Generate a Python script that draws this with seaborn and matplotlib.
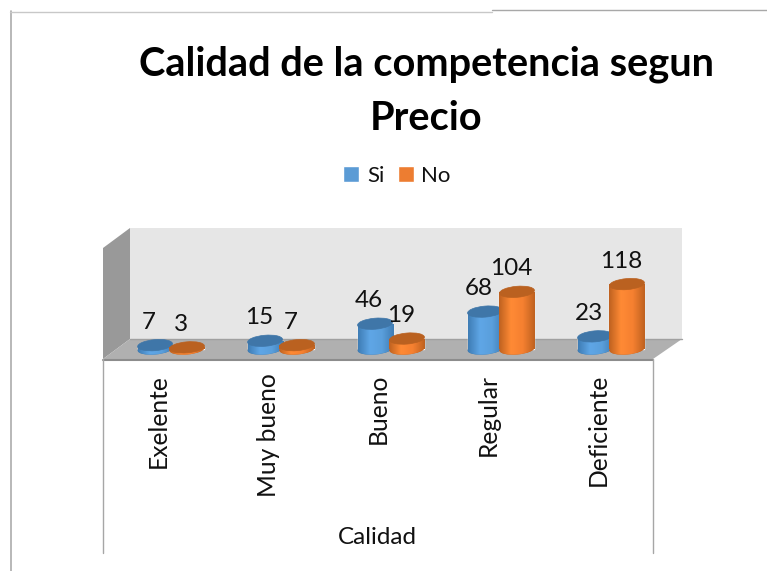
"""Calidad de la competencia segun Precio: columnas tipo cilindro 3D con seaborn."""
import numpy as np
import pandas as pd
import matplotlib
matplotlib.use('Agg')
import matplotlib.pyplot as plt
import seaborn as sns
from matplotlib.lines import Line2D
from matplotlib.patches import Ellipse, Polygon
from matplotlib.transforms import Affine2D, IdentityTransform, ScaledTranslation
from matplotlib.colors import LinearSegmentedColormap

categorias = ['Exelente', 'Muy bueno', 'Bueno', 'Regular', 'Deficiente']
valores_si = [7, 15, 46, 68, 23]
valores_no = [3, 7, 19, 104, 118]
series = ['Si', 'No']
titulo = 'Calidad de la competencia segun\nPrecio'
eje_x = 'Calidad'

ANCHO, ALTO = 767, 571
COLOR_SI = '#5B9BD5'
COLOR_NO = '#ED7D31'
GRADIENTES = {
    COLOR_SI: ['#3F7DB5', '#5FA6E6', '#5A9FDC', '#3F7DB5'],
    COLOR_NO: ['#BF6220', '#FF8A35', '#F58030', '#BF6220'],
}
TAPAS = {COLOR_SI: '#3F76A8', COLOR_NO: '#BA6120'}


def dibujar_decoracion(fig, px):
    """Paredes, piso y marcos del grafico, en pixeles de la imagen."""
    paredes = [
        ([(130, 228), (682, 228), (682, 339), (130, 339)], '#E6E6E6'),
        ([(103, 248), (130, 228), (130, 339), (103, 359)], '#999999'),
        ([(130, 339), (682, 339), (653, 359), (103, 359)], '#B0B0B0'),
    ]
    for puntos, color in paredes:
        fig.add_artist(Polygon(puntos, closed=True, facecolor=color, edgecolor='none',
                               transform=px, zorder=-2))
    lineas = [
        ([103, 653], [359.5, 359.5], '#8C8C8C', 1.5),
        ([130, 682], [339, 339], '#A0A0A0', 1.0),
        ([103, 103], [359, 553], '#A6A6A6', 1.0),
        ([653, 653], [359, 553], '#A6A6A6', 1.0),
        ([10.5, 10.5], [11, 571], '#ABABAB', 1.2),
        ([10, 492], [11.5, 11.5], '#C8C8C8', 1.0),
        ([492, 767], [9.5, 9.5], '#A8A8A8', 1.0),
    ]
    for xs, ys, color, grosor in lineas:
        fig.add_artist(Line2D(xs, ys, color=color, linewidth=grosor, transform=px, zorder=-1))


def dibujar_cilindros(ax):
    """Convierte cada barra de seaborn en un cilindro, con gradiente y tapa."""
    xlim, ylim = ax.get_xlim(), ax.get_ylim()
    identidad = IdentityTransform()
    orden = 5
    for i in range(len(categorias)):
        for contenedor, color in zip(ax.containers, [COLOR_SI, COLOR_NO]):
            barra = contenedor.patches[i]
            x0, ancho, alto = barra.get_x(), barra.get_width(), barra.get_height()
            mapa = LinearSegmentedColormap.from_list('lado', GRADIENTES[color])
            gradiente = np.linspace(0, 1, 64).reshape(1, -1)
            base = ax.transData.transform((x0 + ancho / 2, 0))
            tope = ax.transData.transform((x0 + ancho / 2, alto))
            ancho_px = ax.transData.transform((x0 + ancho, 0))[0] - ax.transData.transform((x0, 0))[0]
            fondo = Ellipse(base, ancho_px, 11, angle=5, transform=identidad,
                            facecolor=TAPAS[color], edgecolor='none', zorder=orden)
            ax.add_patch(fondo)
            imagen = ax.imshow(gradiente, cmap=mapa, aspect='auto', interpolation='bilinear',
                               extent=(x0, x0 + ancho, ylim[0], alto), zorder=orden + 0.1)
            imagen.set_clip_path(fondo)
            imagen2 = ax.imshow(gradiente, cmap=mapa, aspect='auto', interpolation='bilinear',
                                extent=(x0, x0 + ancho, 0, alto), zorder=orden + 0.2)
            imagen2.set_clip_path(barra)
            ax.add_patch(Ellipse(tope, ancho_px, 11, angle=5, transform=identidad,
                                 facecolor=TAPAS[color], edgecolor=TAPAS[color], linewidth=0.5,
                                 zorder=orden + 0.3))
            ax.annotate(f'{int(alto)}', (x0 + ancho / 2, alto), xytext=(-6, 23),
                        textcoords='offset pixels', ha='center', va='center',
                        fontsize=17.5, color='#111111', zorder=50)
            orden += 1
    ax.set_xlim(xlim)
    ax.set_ylim(ylim)


def main():
    sns.set_theme(style='white')
    plt.rcParams['font.family'] = ['Lato', 'DejaVu Sans']

    df = pd.DataFrame({
        'Calidad': categorias * 2,
        'Serie': [series[0]] * 5 + [series[1]] * 5,
        'Valor': valores_si + valores_no,
    })

    fig = plt.figure(figsize=(ANCHO / 100, ALTO / 100), dpi=100, facecolor='white')
    px = Affine2D().scale(1 / ANCHO, -1 / ALTO).translate(0, 1) + fig.transFigure
    dibujar_decoracion(fig, px)

    # el eje llega 8 px bajo la base para que no se corte la curva del cilindro
    ax = fig.add_axes([116 / ANCHO, 1 - 357 / ALTO, 550 / ANCHO, 129 / ALTO])
    ax.patch.set_visible(False)
    sns.barplot(data=df, x='Calidad', y='Valor', hue='Serie', order=categorias,
                hue_order=series, palette=[COLOR_SI, COLOR_NO], width=0.58, gap=-0.1,
                saturation=1, errorbar=None, ax=ax)
    ax.set_ylim(-8 / 0.55, 220)
    ax.set_xlim(-0.5, 4.5)
    ax.set_ylabel('')
    ax.set_yticks([])
    sns.despine(ax=ax, left=True, bottom=True)

    dibujar_cilindros(ax)

    ax.tick_params(axis='x', length=0, pad=12)
    desplazamiento = ScaledTranslation(-13 / 100, 0, fig.dpi_scale_trans)
    for etiqueta in ax.get_xticklabels():
        etiqueta.set_rotation(90)
        etiqueta.set_fontsize(17.7)
        etiqueta.set_color('#111111')
        etiqueta.set_va('top')
        etiqueta.set_ha('center')
        etiqueta.set_transform(etiqueta.get_transform() + desplazamiento)

    ax.set_xlabel(eje_x, fontsize=17.5, color='#111111', va='center')
    ax.xaxis.set_label_coords((377 - 116) / 550, (357 - 537) / 129)

    manijas, nombres = ax.get_legend_handles_labels()
    ax.legend(manijas, nombres, ncols=2, frameon=False, loc='center',
              bbox_to_anchor=(397 / ANCHO, 1 - 176 / ALTO), bbox_transform=fig.transFigure,
              fontsize=16, handlelength=0.72, handleheight=0.72, handletextpad=0.35,
              columnspacing=0.6, labelcolor='#111111')

    fig.suptitle(titulo, x=426 / ANCHO, y=1 - 91 / ALTO, va='center', fontsize=28.6,
                 fontweight='bold', color='black', linespacing=1.55)

    fig.savefig('out.png', dpi=100)


if __name__ == '__main__':
    main()
